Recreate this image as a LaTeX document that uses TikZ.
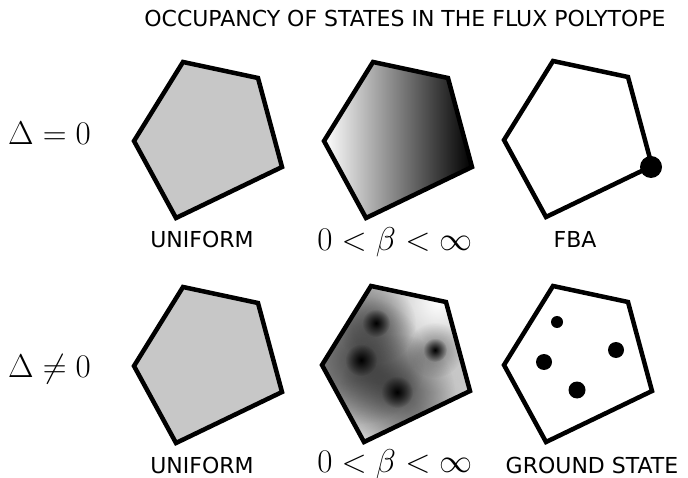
\RequirePackage{fix-cm}
\documentclass[tikz,border=0pt]{standalone}
\usepackage{fontspec}
\newfontfamily\statefont{DejaVu Sans}
\usetikzlibrary{fadings}

\tikzfading[name=blurspot, inner color=transparent!0, outer color=transparent!100]

% polytope outline, given by its top corner
\newcommand{\pentagonat}[2]{(#1,#2) -- ++(75,16) -- ++(24,89) -- ++(-106,51) -- ++(-42,-77) -- cycle}

\begin{document}
\begin{tikzpicture}[
    x=1pt, y=-1pt,
    poly/.style={line width=4.5pt},
    uniform/.style={poly, fill=black!22},
    rowlabel/.style={anchor=base west, inner sep=0pt, font=\fontsize{33}{40}\selectfont},
    caption/.style={anchor=base, inner sep=0pt, font=\statefont\fontsize{22}{26}\selectfont},
    mathcaption/.style={anchor=base, inner sep=0pt, font=\fontsize{33}{40}\selectfont},
    state/.style={fill=black}
]
    \useasboundingbox (0,0) rectangle (688,478);

    \node[caption] (title) at (405,27) {OCCUPANCY OF STATES IN THE FLUX POLYTOPE};

    % row Delta = 0
    \node[rowlabel] (zerolabel) at (8,145) {$\Delta=0$};
    \draw[uniform] \pentagonat{183}{62};
    \shade[left color=white, right color=black] \pentagonat{373}{62};
    \draw[poly] \pentagonat{373}{62};
    \draw[poly] \pentagonat{553}{61};
    \fill[state] (651,167) circle (11);

    \node[caption] (uniformtop) at (202,248) {UNIFORM};
    \node[mathcaption] (betatop) at (395,251) {$0<\beta<\infty$};
    \node[caption] (fba) at (575,248) {FBA};

    % row Delta != 0
    \node[rowlabel] (nonzerolabel) at (8,377) {$\Delta\neq0$};
    \draw[uniform] \pentagonat{183}{287};
    \begin{scope}
        \clip \pentagonat{371}{286};
        \fill[black!40] (300,270) rectangle (490,460);
        \fill[white, path fading=blurspot] (438,302) circle (90);
        \fill[white, opacity=0.7, path fading=blurspot] (362,450) circle (70);
        \fill[white, opacity=0.5, path fading=blurspot] (465,392) circle (60);
        \fill[black, opacity=0.55, path fading=blurspot] (361,360) circle (64);
        \fill[black, opacity=0.5, path fading=blurspot] (397,392) circle (58);
        \fill[black, opacity=0.45, path fading=blurspot] (376,323) circle (40);
        \fill[black, opacity=0.4, path fading=blurspot] (435,350) circle (28);
        \fill[black, path fading=blurspot] (361,360) circle (16);
        \fill[black, path fading=blurspot] (397,392) circle (16);
        \fill[black, path fading=blurspot] (376,323) circle (14);
        \fill[black, path fading=blurspot] (435,350) circle (12);
    \end{scope}
    \draw[poly] \pentagonat{371}{286};
    \draw[poly] \pentagonat{553}{286};
    \fill[state] (557,322) circle (6);
    \fill[state] (616,350) circle (8);
    \fill[state] (544,362) circle (8);
    \fill[state] (577,390) circle (8.5);

    \node[caption] (uniformbottom) at (202,473) {UNIFORM};
    \node[mathcaption] (betabottom) at (395,472) {$0<\beta<\infty$};
    \node[caption] (ground) at (592,473) {GROUND STATE};
\end{tikzpicture}
\end{document}
